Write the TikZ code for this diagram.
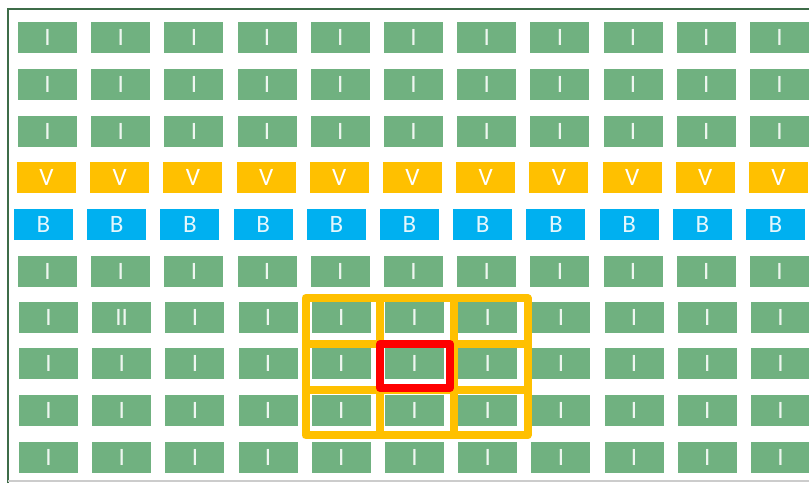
\documentclass[tikz,border=0pt]{standalone}
\usepackage{fontspec}
\setmainfont{Carlito}
\definecolor{cellgreen}{RGB}{112,177,128}
\definecolor{cellgold}{RGB}{255,192,0}
\definecolor{cellblue}{RGB}{0,176,240}
\definecolor{framegreen}{RGB}{62,108,72}
\tikzset{
  cell/.style={minimum width=29.5pt, minimum height=15.5pt, inner sep=0pt,
    font=\fontsize{12.5}{14}\selectfont},
  ibox/.style={cell, fill=cellgreen, text=white!88!cellgreen},
  vbox/.style={cell, fill=cellgold, text=white},
  bbox/.style={cell, fill=cellblue, text=white!90!cellblue},
}
\begin{document}
\begin{tikzpicture}[x=0.5pt, y=-0.5pt]
\useasboundingbox (0,0) rectangle (809,483);
% frame
\draw[framegreen, line width=1.3pt] (8,483) -- (8,9) -- (809,9);
\draw[black!20, line width=0.6pt] (8,481) -- (809,481);
% rows of cells
\foreach \r/\y/\x/\kind/\lbl in {1/37.5/18/ibox/I, 2/84.5/18/ibox/I,
    3/131.5/18/ibox/I, 4/177.5/17/vbox/V, 5/224.5/14/bbox/B,
    6/271.5/18/ibox/I, 8/363.5/19/ibox/I, 9/410.5/19/ibox/I,
    10/457.5/19/ibox/I}
  \foreach \c in {0,...,10}
    \node[\kind] (r\r c\c) at (\x+29.5+\c*73.2,\y) {\lbl};
% row 7, one odd cell
\foreach \c in {0,2,3,4,5,6,7,8,9,10}
  \node[ibox] (r7c\c) at (48.5+\c*73.2,317.5) {I};
\node[ibox] (r7c1) at (121.7,317.5) {II};
% neighbourhood grid
\foreach \i in {0,1,2}
  \foreach \j in {0,1,2}
    \draw[cellgold, line width=4pt, line join=round]
      (305.5+\i*74,298+\j*45.8) rectangle +(74,45.8);
% centre cell
\draw[red, line width=4pt, line join=round] (380,344) rectangle (450,388);
\end{tikzpicture}
\end{document}
